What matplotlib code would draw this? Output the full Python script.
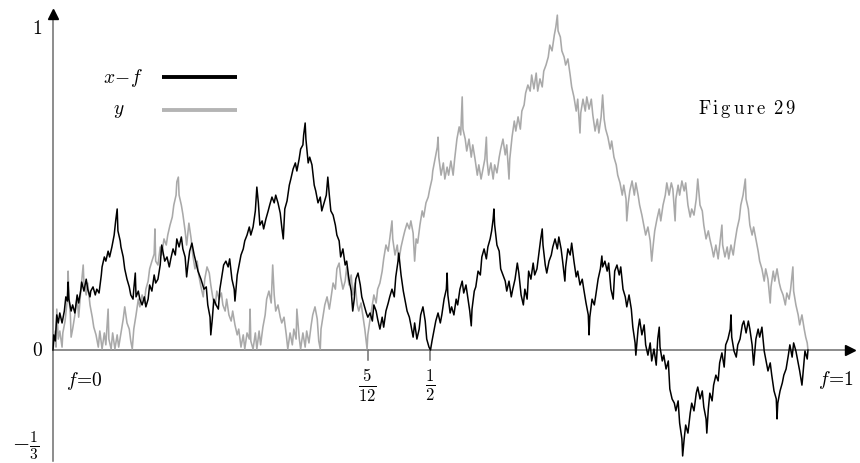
import matplotlib

matplotlib.use("Agg")
import matplotlib.pyplot as plt

plt.rcParams["mathtext.fontset"] = "cm"
plt.rcParams["font.family"] = "serif"
plt.rcParams["font.serif"] = ["DejaVu Serif"]

# x - f (f, value)
F_XF = [0, .001, .003, .005, .007, .009, .012, .015, .017, .019, .020, .021, .024, .026, .029, .032, .034, .037, .038,
        .041, .044, .046, .049, .050, .053, .056, .058, .061, .064, .065, .068, .070, .073, .075, .078, .081, .083, .085,
        .086, .089, .090, .093, .095, .098, .101, .103, .106, .107, .109, .110, .113, .115, .118, .121, .123, .126, .128,
        .131, .134, .136, .139, .142, .144, .146, .148, .151, .154, .156, .159, .162, .164, .167, .170, .172, .175, .177,
        .179, .181, .184, .187, .189, .192, .196, .200, .203, .205, .208, .209, .211, .213, .216, .219, .221, .224, .226,
        .229, .232, .234, .237, .240, .241, .244, .246, .249, .252, .254, .257, .260, .262, .265, .268, .269, .270, .272,
        .274, .277, .279, .282, .285, .287, .290, .293, .295, .298, .301, .303, .305, .307, .310, .313, .315, .318, .321,
        .323, .326, .328, .331, .332, .334, .335, .338, .340, .343, .346, .348, .351, .354, .356, .359, .362, .364, .366,
        .368, .371, .374, .376, .379, .381, .384, .387, .389, .392, .395, .397, .399, .401, .404, .407, .409, .412, .415,
        .417, .420, .423, .425, .428, .430, .433, .436, .438, .441, .444, .446, .449, .452, .454, .457, .458, .461, .464,
        .466, .469, .472, .474, .477, .479, .482, .485, .487, .490, .493, .495, .498, .500, .502, .505, .507, .510, .513,
        .515, .518, .521, .522, .523, .526, .528, .531, .534, .536, .539, .542, .544, .547, .550, .552, .554, .555, .558,
        .560, .563, .566, .568, .571, .574, .576, .579, .581, .583, .584, .585, .588, .591, .593, .596, .599, .601, .604,
        .607, .609, .612, .615, .617, .620, .623, .625, .628, .630, .633, .636, .638, .641, .644, .646, .648, .649, .652,
        .654, .657, .660, .662, .665, .668, .670, .673, .675, .678, .679, .682, .685, .687, .690, .693, .695, .698, .701,
        .703, .706, .709, .710, .711, .714, .717, .719, .722, .725, .727, .728, .731, .734, .736, .739, .742, .744, .747,
        .750, .752, .755, .758, .760, .763, .766, .768, .771, .772, .775, .777, .780, .783, .785, .788, .791, .793, .796,
        .799, .801, .803, .804, .807, .809, .812, .815, .817, .820, .823, .825, .828, .830, .833, .834, .836, .838, .841,
        .844, .846, .849, .852, .854, .857, .860, .862, .865, .866, .868, .870, .873, .875, .878, .881, .883, .886, .889,
        .891, .894, .897, .898, .899, .902, .905, .907, .910, .913, .915, .918, .921, .923, .926, .928, .931, .934, .936,
        .939, .942, .944, .947, .950, .952, .955, .958, .959, .960, .963, .966, .968, .971, .974, .976, .979, .981, .984,
        .987, .989, .992, .993, .996, .999, 1.0]
XF = [0, .047, .028, .109, .084, .115, .084, .121, .165, .152, .211, .158, .121, .140, .115, .171, .146, .189, .211,
      .183, .220, .189, .165, .183, .196, .171, .189, .177, .233, .258, .289, .276, .307, .289, .320, .357, .401, .438,
      .370, .339, .320, .289, .252, .220, .196, .171, .158, .189, .239, .165, .183, .158, .140, .165, .134, .158, .202,
      .183, .233, .208, .220, .264, .326, .301, .276, .289, .258, .283, .314, .295, .345, .320, .351, .314, .289, .227,
      .270, .307, .332, .295, .276, .245, .220, .189, .196, .140, .102, .047, .096, .158, .140, .127, .189, .233, .264,
      .276, .258, .283, .220, .189, .152, .233, .258, .295, .314, .339, .357, .382, .357, .382, .432, .469, .506, .457,
      .388, .401, .376, .407, .432, .450, .475, .457, .481, .457, .425, .382, .345, .438, .463, .512, .531, .562, .581,
      .556, .593, .624, .637, .668, .705, .655, .581, .599, .575, .512, .494, .457, .475, .432, .457, .481, .537, .481,
      .432, .419, .388, .357, .339, .289, .314, .264, .276, .220, .183, .121, .158, .220, .239, .202, .165, .140, .115,
      .102, .115, .090, .140, .121, .096, .065, .102, .071, .121, .146, .165, .189, .165, .227, .276, .301, .233, .183,
      .158, .121, .102, .078, .040, .084, .034, .065, .109, .134, .090, .034, .009, 0, .028, .065, .090, .115, .084,
      .109, .158, .189, .239, .171, .115, .134, .109, .158, .140, .189, .214, .177, .202, .152, .121, .075, .127, .183,
      .196, .245, .233, .289, .314, .283, .320, .345, .370, .407, .438, .388, .326, .307, .252, .233, .214, .183, .214,
      .165, .189, .220, .270, .239, .171, .140, .189, .158, .245, .220, .270, .233, .252, .307, .345, .376, .326, .264,
      .239, .276, .295, .320, .345, .314, .351, .314, .276, .214, .258, .314, .295, .332, .276, .227, .245, .202, .220,
      .189, .146, .109, .047, .102, .158, .140, .171, .220, .252, .292, .258, .276, .245, .270, .189, .158, .245, .264,
      .233, .258, .189, .165, .134, .171, .127, .071, .022, -.016, .065, .096, .047, .078, .016, -.016, .022, -.034, .003,
      -.047, .034, .071, .009, -.034, -.016, -.059, -.034, -.121, -.152, -.165, -.189, -.158, -.227, -.276, -.329, -.276,
      -.233, -.258, -.196, -.165, -.189, -.134, -.115, -.152, -.127, -.177, -.214, -.258, -.183, -.134, -.158, -.109,
      -.078, -.096, -.040, -.009, -.053, .016, .034, .065, .109, .040, -.003, -.022, .016, .034, .078, .090, .053, .090,
      .065, .016, -.047, .034, .065, .040, .071, -.003, -.028, -.065, -.040, -.078, -.127, -.152, -.214, -.165, -.127,
      -.102, -.078, -.059, -.016, .016, -.022, .022, -.003, -.040, -.065, -.109, -.084, -.003, -.028, 0]

# y (f, value)
F_Y = [0, .003, .004, .005, .007, .009, .012, .013, .016, .019, .020, .021, .023, .024, .026, .029, .032, .034, .037,
       .040, .041, .044, .046, .049, .052, .054, .057, .060, .062, .065, .068, .070, .073, .074, .077, .079, .082, .085,
       .087, .090, .093, .095, .098, .101, .103, .105, .107, .110, .113, .115, .118, .121, .123, .126, .128, .131, .134,
       .135, .136, .139, .142, .144, .147, .150, .152, .155, .158, .160, .163, .164, .166, .167, .170, .172, .175, .177,
       .180, .183, .185, .188, .191, .193, .196, .199, .201, .204, .207, .209, .212, .215, .217, .220, .223, .225, .228,
       .230, .233, .236, .238, .241, .244, .246, .249, .252, .254, .257, .260, .261, .262, .265, .268, .270, .273, .275,
       .278, .281, .283, .286, .289, .291, .293, .295, .298, .301, .303, .306, .309, .311, .314, .317, .319, .322, .323,
       .326, .328, .331, .334, .336, .339, .342, .344, .347, .350, .352, .354, .355, .358, .360, .363, .366, .368, .371,
       .374, .376, .379, .381, .384, .387, .389, .392, .395, .397, .400, .403, .405, .408, .411, .413, .416, .417, .420,
       .423, .425, .428, .430, .433, .436, .438, .441, .444, .446, .449, .450, .453, .456, .458, .461, .464, .466, .469,
       .472, .474, .477, .479, .481, .483, .486, .489, .491, .494, .497, .499, .502, .503, .506, .509, .510, .511, .514,
       .517, .519, .522, .524, .527, .530, .532, .535, .538, .540, .542, .543, .546, .548, .551, .554, .556, .559, .562,
       .564, .567, .570, .572, .574, .575, .577, .580, .583, .585, .588, .591, .593, .596, .599, .601, .604, .605, .608,
       .611, .613, .616, .619, .621, .624, .626, .629, .632, .634, .637, .640, .642, .645, .648, .650, .653, .656, .658,
       .661, .664, .666, .668, .669, .672, .674, .677, .679, .682, .685, .687, .690, .693, .695, .698, .699, .702, .705,
       .707, .710, .713, .715, .718, .721, .723, .726, .728, .730, .732, .735, .738, .740, .743, .746, .748, .751, .754,
       .756, .759, .760, .762, .764, .767, .770, .772, .775, .777, .780, .783, .785, .788, .791, .793, .795, .797, .800,
       .803, .805, .808, .811, .813, .816, .819, .821, .824, .825, .828, .830, .833, .836, .838, .841, .844, .846, .849,
       .852, .854, .857, .860, .862, .865, .868, .870, .873, .875, .878, .881, .883, .886, .887, .890, .893, .895, .898,
       .901, .903, .906, .909, .911, .914, .917, .918, .921, .923, .926, .928, .931, .934, .936, .939, .942, .944, .947,
       .950, .951, .954, .956, .959, .962, .964, .967, .970, .972, .975, .977, .980, .981, .984, .987, .989, .992, .995,
       .997, .999, 1.0]
Y = [0, .059, .009, .127, .034, .059, .009, .053, .090, .158, .245, .171, .109, .040, .065, .109, .165, .102, .189,
     .264, .208, .171, .208, .140, .102, .071, .047, .009, .059, .003, .053, .016, .127, .034, .003, .053, .003, .047,
     .009, .053, .096, .134, .084, .065, .028, .003, .065, .109, .158, .134, .171, .146, .189, .214, .252, .276, .298,
     .376, .276, .264, .320, .295, .345, .326, .357, .388, .413, .450, .481, .522, .537, .481, .450, .422, .370, .326,
     .394, .345, .298, .252, .276, .233, .196, .165, .220, .258, .239, .202, .158, .140, .183, .158, .177, .140, .121,
     .158, .109, .090, .121, .078, .047, .065, .009, .047, .003, .053, .034, .127, .028, .003, .053, .003, .059, .016,
     .071, .109, .158, .183, .146, .264, .171, .121, .140, .102, .084, .102, .047, .003, .053, .016, .065, .034, .127,
     .040, .003, .053, .009, .059, .022, .078, .109, .134, .096, .028, .003, .065, .109, .140, .165, .127, .158, .208,
     .189, .252, .270, .227, .189, .214, .258, .202, .233, .171, .208, .140, .121, .146, .096, .065, .003, .047, .096,
     .140, .171, .146, .189, .208, .245, .283, .326, .307, .345, .401, .345, .295, .326, .276, .320, .351, .370, .394,
     .376, .401, .363, .276, .345, .332, .388, .432, .413, .457, .475, .500, .531, .556, .593, .630, .661, .599, .543,
     .581, .531, .568, .543, .587, .543, .593, .655, .693, .668, .786, .686, .655, .618, .655, .599, .637, .593, .543,
     .575, .531, .568, .593, .661, .587, .543, .581, .531, .575, .550, .599, .624, .655, .606, .637, .531, .593, .661,
     .711, .680, .724, .686, .742, .761, .798, .823, .804, .854, .811, .860, .804, .842, .817, .866, .885, .910, .947,
     .929, .978, 1.003, 1.040, .991, .972, .929, .910, .885, .904, .854, .817, .786, .742, .779, .674, .736, .779, .742,
     .786, .748, .779, .730, .680, .717, .674, .724, .792, .717, .686, .661, .624, .649, .599, .575, .543, .519, .481,
     .512, .469, .401, .457, .494, .525, .481, .519, .481, .450, .419, .382, .357, .382, .339, .276, .326, .370, .407,
     .438, .401, .450, .481, .519, .481, .519, .500, .401, .469, .512, .481, .525, .494, .519, .450, .413, .438, .419,
     .469, .531, .450, .432, .388, .345, .370, .345, .314, .289, .326, .283, .326, .388, .326, .289, .320, .283, .326,
     .295, .332, .376, .407, .450, .481, .531, .469, .438, .388, .357, .382, .345, .307, .276, .252, .214, .252, .220,
     .146, .196, .245, .214, .252, .208, .189, .171, .140, .177, .158, .189, .258, .183, .140, .109, .078, .109, .065,
     .040, .022, 0]

TICK_F = [5 / 12, 1 / 2]
TICK_LABELS = [r"$\frac{5}{12}$", r"$\frac{1}{2}$"]

fig = plt.figure(figsize=(8.6, 4.64), dpi=100)
ax = fig.add_axes([0, 0, 1, 1])
ax.set_xlim(-0.0702, 1.0689)
ax.set_ylim(-0.3509, 1.0901)
ax.axis("off")

axis_col = "#6e6e6e"
ax.plot([0, 1.052], [0, 0], color=axis_col, lw=1.1, zorder=1)
ax.plot([0, 0], [-0.345, 1.035], color=axis_col, lw=1.1, zorder=1)
ax.plot([1.055], [0], marker=">", color="black", ms=7, zorder=5)
ax.plot([0], [1.045], marker="^", color="black", ms=7, zorder=5)

for f, lab in zip(TICK_F, TICK_LABELS):
    ax.plot([f, f], [0, -0.03], color=axis_col, lw=1.1)
    ax.text(f, -0.108, lab, ha="center", va="center", fontsize=17)

ax.plot(F_Y, Y, color="#a9a9a9", lw=1.15, zorder=2)
ax.plot(F_XF, XF, color="black", lw=1.1, zorder=3)

ax.text(-0.021, 1.0, "$1$", ha="center", va="center", fontsize=14)
ax.text(-0.021, 0.0, "$0$", ha="center", va="center", fontsize=14)
ax.text(-0.036, -0.292, r"$-\frac{1}{3}$", ha="center", va="center", fontsize=16)
ax.text(0.042, -0.093, "$f\\!=\\!0$", ha="center", va="center", fontsize=14)
ax.text(1.037, -0.09, "$f\\!=\\!1$", ha="center", va="center", fontsize=14)

# legend
ax.text(0.119, 0.848, "$x\\!-\\!f$", ha="right", va="center", fontsize=14)
ax.text(0.087, 0.745, "$y$", ha="center", va="center", fontsize=14)
ax.plot([0.144, 0.244], [0.848, 0.848], color="black", lw=2.8, solid_capstyle="butt")
ax.plot([0.144, 0.244], [0.745, 0.745], color="#b4b4b4", lw=2.8, solid_capstyle="butt")

ax.text(0.919, 0.752, r"$\mathrm{F\,i\,g\,u\,r\,e\;\;2\,9}$", ha="center", va="center", fontsize=13.5)

fig.savefig("out.png", dpi=100)
